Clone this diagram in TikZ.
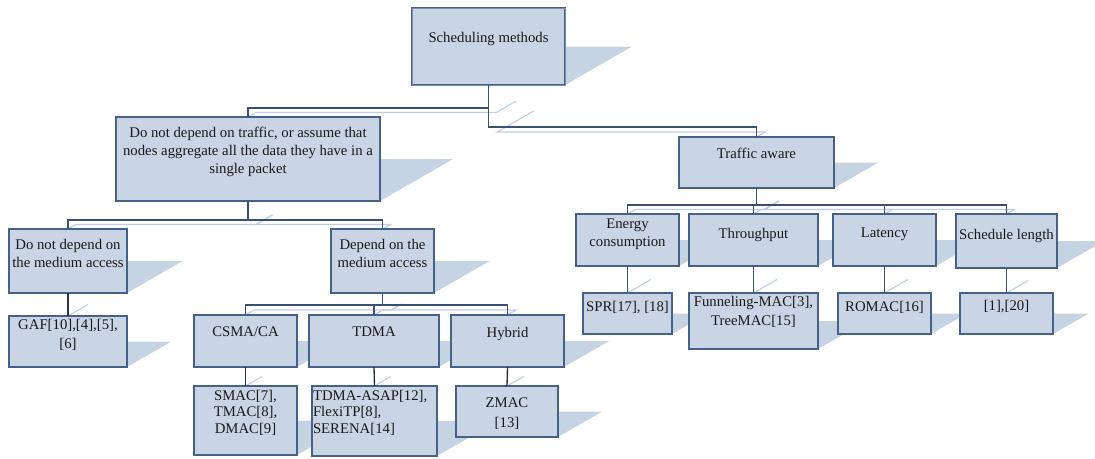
\documentclass[tikz,border=0pt]{standalone}
\usepackage{fontspec}
\setmainfont{Liberation Serif}
\usetikzlibrary{calc}
\pgfdeclarelayer{bg}
\pgfsetlayers{bg,main}
\definecolor{boxfill}{RGB}{201,213,228}
\definecolor{boxline}{RGB}{70,96,134}
\definecolor{shadowc}{RGB}{198,211,227}
\definecolor{connc}{RGB}{58,80,115}
\definecolor{conndark}{RGB}{45,50,62}
\definecolor{cshadowc}{RGB}{190,206,228}
\definecolor{textc}{RGB}{25,25,25}

% box from pixel corners
\newcommand\bx[6][]{%
  \pgfmathsetmacro\bw{(#5-#3)*0.75}%
  \pgfmathsetmacro\bh{(#6-#4)*0.75}%
  \node[box,#1,minimum width=\bw pt,minimum height=\bh pt] (#2) at ({(#3+#5)/2},{(#4+#6)/2}) {};%
}
% shadow of a box
\newcommand\bshadow[1]{%
  \fill[shadowc] let \p1=(#1.south west), \p2=(#1.north east),
    \n1={0.87*(\y2-\y1)}, \n2={0.5*(\y2-\y1)} in
    (\x1,\y1) -- (\x2,\y1) -- ({\x2+\n1},{\y1+\n2}) -- ({\x1+\n1},{\y1+\n2}) -- cycle;%
}
% elbow connector with its shadow
\newcommand\elbow[4][connc]{%
  \draw[conn,draw=#1] (#2.south) -- (#2.south |- 0,#4) -| (#3.north);%
  \begin{pgfonlayer}{bg}
  \draw[cshadow] let \p1=(#2.south), \p2=(#3.north), \p3=(0,#4) in
    ({\x1+0.87*(\y1-\y2)},{\y2+0.5*(\y1-\y2)}) --
    ({\x1+0.87*(\y3-\y2)},{\y2+0.5*(\y3-\y2)}) --
    ({\x2+0.87*(\y3-\y2)},{\y2+0.5*(\y3-\y2)}) -- (\x2,\y2);
  \end{pgfonlayer}%
}
% straight connector with its shadow
\newcommand\straight[3][connc]{%
  \draw[conn,draw=#1] (#2.south) -- (#3.north);%
  \begin{pgfonlayer}{bg}
  \draw[cshadow] let \p1=(#2.south), \p2=(#3.north) in
    ({\x1+0.87*(\y1-\y2)},{\y2+0.5*(\y1-\y2)}) -- (\x2,\y2);
  \end{pgfonlayer}%
}

\begin{document}
\begin{tikzpicture}[x=0.75pt,y=-0.75pt,
  box/.style={rectangle,draw=boxline,fill=boxfill,line width=1pt,inner sep=0pt,outer sep=0pt},
  topbox/.style={draw=boxline,double=boxline!60!boxfill,double distance=0.6pt,line width=0.8pt},
  conn/.style={line width=1pt},
  cshadow/.style={draw=cshadowc,line width=0.85pt},
  txt/.style={inner sep=0pt,outer sep=0pt,anchor=north,align=center,text=textc,
    font=\fontsize{11.06pt}{13.5pt}\selectfont},
  tight/.style={font=\fontsize{11.06pt}{12.5pt}\selectfont},
  loose/.style={font=\fontsize{11.06pt}{14.5pt}\selectfont}]
\useasboundingbox (0,0) rectangle (1095,458);

% boxes
\bx[topbox]{top}{412}{8}{565}{85}
\bx{dnt}{116}{117}{380}{201}
\bx{ta}{679}{137}{834}{188}
\bx{dnm}{9}{229}{127}{293}
\bx{dep}{331}{229}{434}{293}
\bx{gaf}{9}{316}{127}{367}
\bx{csma}{194}{315}{297}{367}
\bx{tdma}{309}{315}{439}{367}
\bx{hyb}{451}{315}{564}{367}
\bx{smac}{194}{386}{297}{455}
\bx{asap}{312}{386}{437}{456}
\bx{zmac}{456}{386}{558}{437}
\bx{en}{576}{214}{679}{266}
\bx{thr}{689}{214}{818}{266}
\bx{lat}{833}{214}{936}{266}
\bx{sch}{956}{214}{1057}{268}
\bx{spr}{583}{293}{672}{334}
\bx{fun}{689}{293}{818}{349}
\bx{rom}{838}{293}{931}{334}
\bx{refs}{960}{293}{1053}{334}

% shadows of the boxes
\begin{pgfonlayer}{bg}
\foreach \bn in {top,dnt,ta,dnm,dep,gaf,csma,tdma,hyb,smac,asap,zmac,en,thr,lat,sch,spr,fun,rom,refs}
  {\bshadow{\bn}}
\end{pgfonlayer}

% connectors
\elbow{top}{dnt}{108}
\elbow{top}{ta}{127}
\elbow{dnt}{dnm}{220}
\elbow{dnt}{dep}{220}
\straight[conndark]{dnm}{gaf}
\elbow{dep}{csma}{305}
\elbow{dep}{tdma}{305}
\elbow{dep}{hyb}{305}
\straight[conndark]{csma}{smac}
\straight[conndark]{tdma}{asap}
\straight[conndark]{hyb}{zmac}
\elbow{ta}{en}{205}
\elbow{ta}{thr}{205}
\elbow{ta}{lat}{205}
\elbow{ta}{sch}{205}
\straight{en}{spr}
\straight{thr}{fun}
\straight{lat}{rom}
\straight{sch}{refs}

% texts
\node[txt] (top-t) at (488.5,32) {Scheduling methods};
\node[txt] (dnt-t) at (248,127) {Do not depend on traffic, or assume that\\nodes aggregate all the data they have in a\\single packet};
\node[txt] (ta-t) at (756.5,148) {Traffic aware};
\node[txt] (dnm-t) at (68,239) {Do not depend on\\the medium access};
\node[txt] (dep-t) at (382.5,239) {Depend on the\\medium access};
\node[txt,loose] (gaf-t) at (68,319) {GAF[10],[4],[5],\\{}[6]};
\node[txt] (csma-t) at (245.5,327) {CSMA/CA};
\node[txt] (tdma-t) at (374,327) {TDMA};
\node[txt] (hyb-t) at (507.5,327) {Hybrid};
\node[txt,tight] (smac-t) at (245.5,390) {SMAC[7],\\TMAC[8],\\DMAC[9]};
\node[txt,tight,anchor=north west,align=left] (asap-t) at (313,390) {TDMA-ASAP[12],\\FlexiTP[8],\\SERENA[14]};
\node[txt,loose] (zmac-t) at (507,398) {ZMAC\\{}[13]};
\node[txt] (en-t) at (627.5,219) {Energy\\consumption};
\node[txt] (thr-t) at (753.5,228) {Throughput};
\node[txt] (lat-t) at (884.5,228) {Latency};
\node[txt] (sch-t) at (1006.5,229) {Schedule length};
\node[txt] (spr-t) at (627.5,301) {SPR[17], [18]};
\node[txt,loose] (fun-t) at (753.5,296) {Funneling-MAC[3],\\TreeMAC[15]};
\node[txt] (rom-t) at (884.5,301) {ROMAC[16]};
\node[txt] (refs-t) at (1006.5,300) {[1],[20]};
\end{tikzpicture}
\end{document}
